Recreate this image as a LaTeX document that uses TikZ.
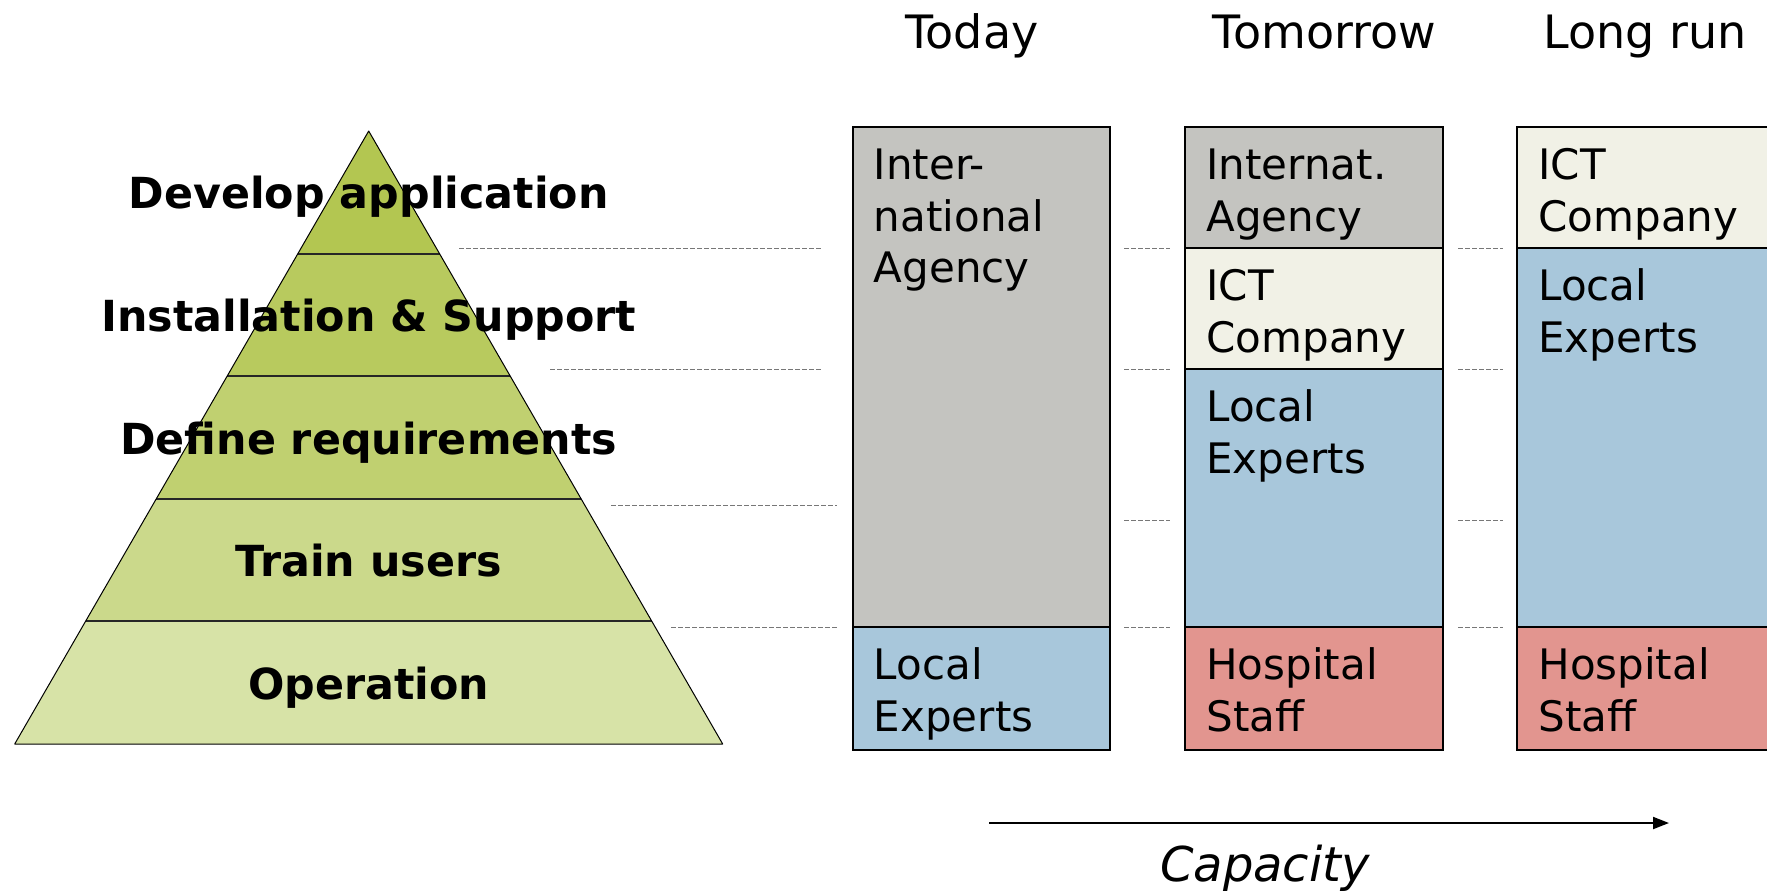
\documentclass[tikz,border=0pt]{standalone}
\usepackage{fontspec}
\setmainfont{DejaVu Sans}
\usepackage{tikz}
\usetikzlibrary{calc,arrows.meta}
\definecolor{ink}{HTML}{000000}
\definecolor{pyrA}{HTML}{B3C651}
\definecolor{pyrB}{HTML}{B8CA5E}
\definecolor{pyrC}{HTML}{C0D070}
\definecolor{pyrD}{HTML}{CBD98B}
\definecolor{pyrE}{HTML}{D7E3A7}
\definecolor{agency}{HTML}{C4C4C0}
\definecolor{ict}{HTML}{F1F1E6}
\definecolor{expert}{HTML}{A8C7DB}
\definecolor{staff}{HTML}{E2958F}
\definecolor{guidegray}{HTML}{777777}
\tikzset{
  blk/.style={draw=ink, line width=1pt},
  edge/.style={draw=ink, line width=0.5pt, line join=round},
  sep/.style={draw=ink!85, line width=1pt},
  guide/.style={draw=guidegray, line width=0.4pt, dash pattern=on 2.5pt off 1pt},
  flow/.style={draw=ink, line width=1pt, -{Triangle[length=8pt,width=6pt]}},
  hdr/.style={text=ink, font=\fontsize{23}{28}\selectfont, anchor=base, inner sep=0pt},
  cell/.style={text=ink, font=\fontsize{21}{25.8}\selectfont, align=left, anchor=base west, inner sep=0pt},
  lvl/.style={text=ink, font=\bfseries\fontsize{21.4}{26}\selectfont, anchor=base, inner sep=0pt},
  axislab/.style={text=ink, font=\itshape\fontsize{24}{29}\selectfont, anchor=base, inner sep=0pt},
}
\begin{document}
\begin{tikzpicture}[x=0.5pt,y=-0.5pt]
  \useasboundingbox (0,0) rectangle (1767,890);
  \clip (0,0) rectangle (1767,890);
  % pyramid
  \coordinate (A) at (368.7,131);
  \coordinate (L) at (14.7,744);
  \coordinate (R) at (722.7,744);
  \foreach \k/\c in {1/pyrA,2/pyrB,3/pyrC,4/pyrD,5/pyrE}{
    \pgfmathsetmacro\ta{(\k-1)/5}
    \pgfmathsetmacro\tb{\k/5}
    \fill[\c] ($(A)!\ta!(L)$) -- ($(A)!\tb!(L)$) -- ($(A)!\tb!(R)$) -- ($(A)!\ta!(R)$) -- cycle;
  }
  \foreach \k in {1,...,4}{
    \pgfmathsetmacro\tb{\k/5}
    \draw[sep] ($(A)!\tb!(L)$) -- ($(A)!\tb!(R)$);
  }
  \draw[edge] (A) -- (L) -- (R) -- cycle;
  \node[lvl] (lvl1) at (368.7,208.8) {Develop application};
  \node[lvl] (lvl2) at (368.7,331.4) {Installation \& Support};
  \node[lvl] (lvl3) at (368.7,454) {Define requirements};
  \node[lvl] (lvl4) at (368.7,576.6) {Train users};
  \node[lvl] (lvl5) at (368.7,699.2) {Operation};
  % guide lines
  \foreach \y/\xs/\xe in {248/459/823, 369/550/823, 505/611/837, 627/671/838}
    \draw[guide] (\xs,\y) -- (\xe,\y);
  \foreach \y in {248,369,520,627}{
    \draw[guide] (1124,\y) -- (1170,\y);
    \draw[guide] (1458,\y) -- (1503,\y);
  }
  % columns
  \node[hdr] (today) at (972,48) {Today};
  \node[hdr] (tomorrow) at (1324.5,48) {Tomorrow};
  \node[hdr] (longrun) at (1645,48) {Long run};
  \draw[blk, fill=agency] (853,127) rectangle (1110,627);
  \draw[blk, fill=expert] (853,627) rectangle (1110,750);
  \draw[blk, fill=agency] (1185,127) rectangle (1443,248);
  \draw[blk, fill=ict] (1185,248) rectangle (1443,369);
  \draw[blk, fill=expert] (1185,369) rectangle (1443,627);
  \draw[blk, fill=staff] (1185,627) rectangle (1443,750);
  \draw[blk, fill=ict] (1517,127) rectangle (1774,248);
  \draw[blk, fill=expert] (1517,248) rectangle (1774,627);
  \draw[blk, fill=staff] (1517,627) rectangle (1774,750);
  % base west sits on the last line
  \node[cell] (agency1) at (873.5,282.9) {Inter-\\national\\Agency};
  \node[cell] (expert1) at (873.5,731.2) {Local\\Experts};
  \node[cell] (agency2) at (1206,231.2) {Internat.\\Agency};
  \node[cell] (ict2) at (1206,352.2) {ICT\\Company};
  \node[cell] (expert2) at (1206,473.2) {Local\\Experts};
  \node[cell] (staff2) at (1206,731.2) {Hospital\\Staff};
  \node[cell] (ict3) at (1538,231.2) {ICT\\Company};
  \node[cell] (expert3) at (1538,352.2) {Local\\Experts};
  \node[cell] (staff3) at (1538,731.2) {Hospital\\Staff};
  % capacity axis
  \coordinate (cs) at (989,823);
  \coordinate (ce) at (1669,823);
  \draw[flow] (cs) -- (ce);
  \node[axislab] (capacity) at (1265,881) {Capacity};
\end{tikzpicture}
\end{document}
